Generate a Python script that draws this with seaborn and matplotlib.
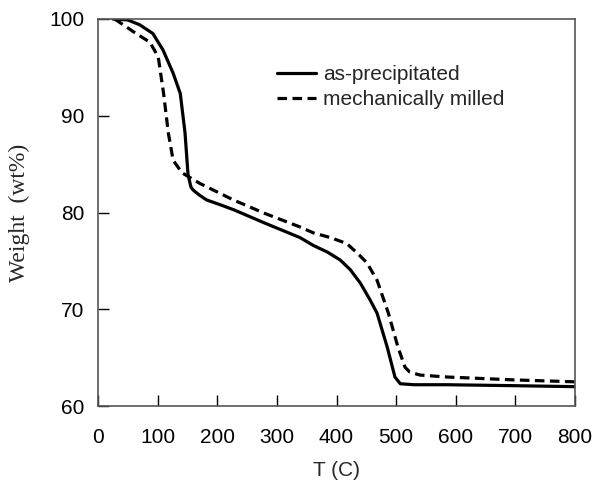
import matplotlib

matplotlib.use("Agg")
import matplotlib.pyplot as plt
import pandas as pd
import seaborn as sns

# TGA curves
T_PRECIP = [25, 50, 70, 92, 109, 126, 138, 146, 151, 156, 160, 170, 182, 205, 227, 280,
            339, 361, 385, 406, 423, 440, 456, 468, 485, 498, 507, 530, 585, 700, 800]
W_PRECIP = [100.0, 99.9, 99.4, 98.5, 96.8, 94.4, 92.3, 88.2, 83.9, 82.6, 82.3, 81.8, 81.3,
            80.8, 80.3, 78.9, 77.4, 76.6, 75.9, 75.1, 74.1, 72.7, 71.0, 69.6, 66.1, 63.0,
            62.3, 62.2, 62.2, 62.1, 62.0]

T_MILLED = [28, 59, 87, 101, 110, 118, 126, 141, 171, 227, 280, 339, 361, 390, 417, 435,
            451, 468, 487, 503, 515, 523, 540, 585, 697, 800]
W_MILLED = [100.0, 98.7, 97.6, 96.1, 92.3, 88.2, 85.4, 84.1, 83.0, 81.3, 79.9, 78.5, 77.9,
            77.4, 76.8, 75.8, 74.8, 73.0, 69.6, 66.1, 64.0, 63.5, 63.2, 63.0, 62.7, 62.5]

SERIES = ["as-precipitated", "mechanically milled"]

df = pd.concat(
    [
        pd.DataFrame({"T": T_PRECIP, "W": W_PRECIP, "sample": SERIES[0]}),
        pd.DataFrame({"T": T_MILLED, "W": W_MILLED, "sample": SERIES[1]}),
    ],
    ignore_index=True,
)

sns.set_style("ticks")
plt.rcParams["font.family"] = ["Liberation Sans", "DejaVu Sans"]

fig = plt.figure(figsize=(5.95, 4.87), dpi=100)
ax = fig.add_axes([0.1647, 0.1663, 0.8017, 0.7947])

sns.lineplot(
    data=df, x="T", y="W", hue="sample", style="sample",
    palette=["black", "black"], dashes=[(None, None), (3.0, 1.7)],
    linewidth=2.3, sort=False, estimator=None, ax=ax,
)

ax.set_xlim(0, 800)
ax.set_ylim(60, 100)
ax.set_xticks(range(0, 801, 100))
ax.set_yticks(range(60, 101, 10))
ax.tick_params(direction="in", length=8, width=1, labelsize=15, colors="black")
ax.tick_params(axis="x", pad=16)
ax.tick_params(axis="y", pad=10)
for s in ax.spines.values():
    s.set_color("#555555")
    s.set_linewidth(1.2)

ax.set_xlabel("T (C)", fontsize=15, labelpad=10)
ax.set_ylabel("Weight  (wt%)", fontsize=17, family=["Liberation Serif"], labelpad=14)

leg = ax.legend(
    loc="upper left", bbox_to_anchor=(0.337, 0.93), frameon=False, fontsize=15,
    handlelength=1.85, handletextpad=0.35, labelspacing=0.3,
)

fig.savefig("out.png", dpi=100)
